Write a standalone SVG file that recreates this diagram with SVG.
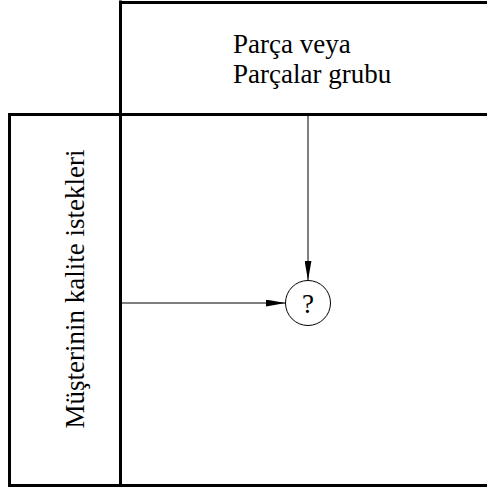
<svg xmlns="http://www.w3.org/2000/svg" width="487" height="489" viewBox="0 0 487 489">
<style>
.frame{stroke:#000;stroke-width:3;fill:none;stroke-linecap:square}
.thin{stroke:#000;stroke-width:1;fill:none}
.lbl{font-family:'Liberation Serif','Times New Roman','DejaVu Serif',serif;font-size:27px;fill:#000}
</style>
<defs>
<marker id="ah" viewBox="0 0 20 7" refX="20" refY="3.5" markerWidth="20" markerHeight="7" markerUnits="userSpaceOnUse" orient="auto">
<path d="M0,0 L20,3.5 L0,7 Z" fill="#000"/>
</marker>
</defs>
<rect width="487" height="489" fill="#fff"/>
<g id="frame">
<line class="frame" x1="121" y1="2.5" x2="487" y2="2.5"/>
<line class="frame" x1="120.5" y1="2" x2="120.5" y2="485.5"/>
<line class="frame" x1="9.5" y1="114.5" x2="487" y2="114.5"/>
<line class="frame" x1="9.5" y1="114.5" x2="9.5" y2="485.5"/>
<line class="frame" x1="9.5" y1="485.5" x2="487" y2="485.5"/>
</g>
<g id="header">
<text class="lbl" font-family="Liberation Serif, serif" x="233" y="53">Parça veya</text>
<text class="lbl" font-family="Liberation Serif, serif" x="233" y="83">Parçalar grubu</text>
</g>
<g id="side">
<text class="lbl" font-family="Liberation Serif, serif" transform="translate(84,289) rotate(-90)" text-anchor="middle">Müşterinin kalite istekleri</text>
</g>
<g id="decision">
<circle class="thin" cx="308" cy="303" r="22.5"/>
<text class="lbl" font-family="Liberation Serif, serif" x="308" y="313" text-anchor="middle">?</text>
</g>
<g id="connectors">
<line class="thin" x1="308" y1="115" x2="308" y2="280.5" marker-end="url(#ah)"/>
<line class="thin" x1="122" y1="303" x2="285.5" y2="303" marker-end="url(#ah)"/>
</g>
</svg>
